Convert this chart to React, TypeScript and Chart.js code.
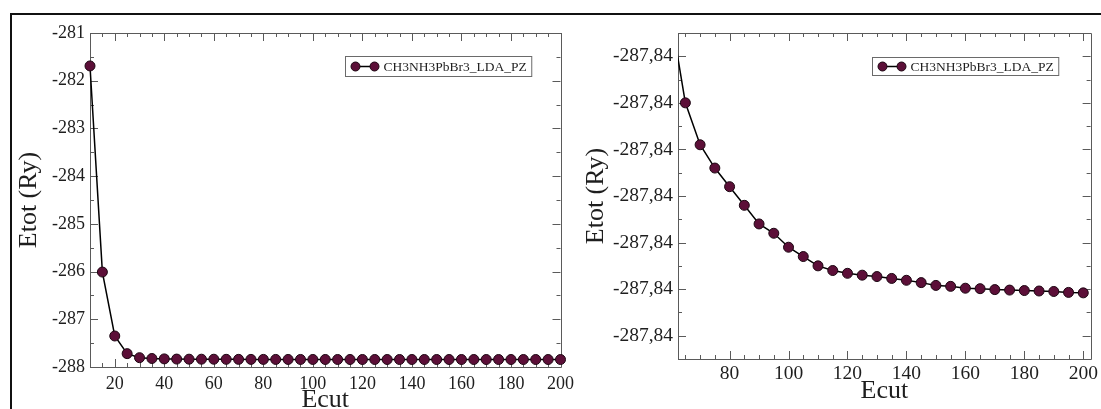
import React, { useEffect, useRef } from "react";
import { Chart, registerables } from "chart.js";

Chart.register(...registerables);

// ---------------- data ----------------
const SERIES_LABEL = "CH3NH3PbBr3_LDA_PZ";
const X_TITLE = "Ecut";
const Y_TITLE = "Etot (Ry)";

const leftEcut = [10, 15, 20, 25, 30, 35, 40, 45, 50, 55, 60, 65, 70, 75, 80, 85, 90, 95, 100, 105, 110, 115, 120, 125, 130, 135, 140, 145, 150, 155, 160, 165, 170, 175, 180, 185, 190, 195, 200];
const leftEtot = [-281.69, -286.01, -287.35, -287.72, -287.805, -287.822, -287.83, -287.834, -287.836, -287.8365, -287.8371, -287.839, -287.8399, -287.8404, -287.8408, -287.8412, -287.8416, -287.8418, -287.8421, -287.8423, -287.8425, -287.8426, -287.84266, -287.8427, -287.84273, -287.84277, -287.84281, -287.84286, -287.84292, -287.84294, -287.84298, -287.84299, -287.84301, -287.84302, -287.84303, -287.84304, -287.84305, -287.84307, -287.84308];

const rightEcut = [60, 65, 70, 75, 80, 85, 90, 95, 100, 105, 110, 115, 120, 125, 130, 135, 140, 145, 150, 155, 160, 165, 170, 175, 180, 185, 190, 195, 200];
const rightEtot = [-287.8371, -287.839, -287.8399, -287.8404, -287.8408, -287.8412, -287.8416, -287.8418, -287.8421, -287.8423, -287.8425, -287.8426, -287.84266, -287.8427, -287.84273, -287.84277, -287.84281, -287.84286, -287.84292, -287.84294, -287.84298, -287.84299, -287.84301, -287.84302, -287.84303, -287.84304, -287.84305, -287.84307, -287.84308];

const leftXTicks = [20, 40, 60, 80, 100, 120, 140, 160, 180, 200];
const leftYTicks = [-288, -287, -286, -285, -284, -283, -282, -281];
const rightXTicks = [80, 100, 120, 140, 160, 180, 200];
const rightYTicks = [-287.844, -287.843, -287.842, -287.841, -287.84, -287.839, -287.838];

// ---------------- styling ----------------
const FONT = "'Liberation Serif', 'Times New Roman', serif";
const MARKER_FILL = "#5c0f38";
const MARKER_EDGE = "#1c0612";
const AXIS_COLOR = "#5a5a5a";
const TEXT_COLOR = "#1e1e1e";

const framePlugin = {
  id: "frameTicks",
  beforeDatasetsDraw(chart: any, _args: any, o: any) {
    const { ctx, chartArea: a, scales } = chart;
    const xs = scales.x;
    const ys = scales.y;
    ctx.save();
    ctx.strokeStyle = o.color;
    ctx.lineWidth = 1;
    ctx.beginPath();
    ctx.rect(Math.round(a.left) + 0.5, Math.round(a.top) + 0.5, Math.round(a.right - a.left), Math.round(a.bottom - a.top));
    ctx.stroke();
    const majX: number[] = o.xMajor;
    const majY: number[] = o.yMajor;
    const drawX = (v: number, len: number) => {
      const px = Math.round(xs.getPixelForValue(v)) + 0.5;
      ctx.beginPath();
      ctx.moveTo(px, a.bottom);
      ctx.lineTo(px, a.bottom - len);
      ctx.moveTo(px, a.top);
      ctx.lineTo(px, a.top + len);
      ctx.stroke();
    };
    const drawY = (v: number, len: number) => {
      const py = Math.round(ys.getPixelForValue(v)) + 0.5;
      ctx.beginPath();
      ctx.moveTo(a.left, py);
      ctx.lineTo(a.left + len, py);
      ctx.moveTo(a.right, py);
      ctx.lineTo(a.right - len, py);
      ctx.stroke();
    };
    majX.forEach((v) => drawX(v, o.majorLen));
    majY.forEach((v) => drawY(v, o.majorLen));
    const near = (arr: number[], v: number, eps: number) => arr.some((m) => Math.abs(m - v) < eps);
    for (let v = Math.ceil(xs.min / o.xMinor) * o.xMinor; v <= xs.max + 1e-9; v += o.xMinor) {
      if (!near(majX, v, o.xMinor / 10)) drawX(v, o.minorLen);
    }
    const yStart = Math.ceil((ys.min - 1e-12) / o.yMinor) * o.yMinor;
    for (let k = 0; ; k++) {
      const v = yStart + k * o.yMinor;
      if (v > ys.max + 1e-12) break;
      if (!near(majY, v, o.yMinor / 10)) drawY(v, o.minorLen);
    }
    ctx.restore();
  },
};

const legendPlugin = {
  id: "boxLegend",
  afterDatasetsDraw(chart: any, _args: any, o: any) {
    const { ctx, chartArea: a } = chart;
    const ds = chart.data.datasets[0];
    ctx.save();
    ctx.font = `${o.fontSize}px ${FONT}`;
    const tw = ctx.measureText(ds.label).width;
    const w = 38 + tw + 5;
    const h = o.height;
    const left = Math.round(a.right - o.rightOffset - w) + 0.5;
    const top = Math.round(a.top + o.topOffset) + 0.5;
    ctx.fillStyle = "#ffffff";
    ctx.fillRect(left, top, w, h);
    ctx.strokeStyle = "#6a6a6a";
    ctx.lineWidth = 1;
    ctx.strokeRect(left, top, w, h);
    const cy = top + h / 2;
    ctx.strokeStyle = "#000";
    ctx.lineWidth = 1.5;
    ctx.beginPath();
    ctx.moveTo(left + 10, cy);
    ctx.lineTo(left + 29, cy);
    ctx.stroke();
    [left + 10, left + 29].forEach((cx) => {
      ctx.beginPath();
      ctx.arc(cx, cy, 4.5, 0, Math.PI * 2);
      ctx.fillStyle = MARKER_FILL;
      ctx.fill();
      ctx.lineWidth = 1;
      ctx.strokeStyle = MARKER_EDGE;
      ctx.stroke();
    });
    ctx.fillStyle = TEXT_COLOR;
    ctx.textBaseline = "middle";
    ctx.textAlign = "left";
    ctx.fillText(ds.label, left + 38, cy + 1);
    ctx.restore();
  },
};

type PanelCfg = {
  ecut: number[];
  etot: number[];
  xMin: number;
  xMax: number;
  yMin: number;
  yMax: number;
  xTicks: number[];
  yTicks: number[];
  yMinor: number;
  yFmt: (v: number) => string;
  tickFont: number;
  xTickPad: number;
  yAxisWidth: number;
  xAxisHeight: number;
  padding: { left: number; right: number; top: number; bottom: number };
  xTitleLineHeight: number;
  xTitlePadBottom: number;
  clip: any;
  legendRight: number;
  legendTop: number;
  legendHeight: number;
};

function buildConfig(p: PanelCfg): any {
  return {
    type: "line",
    data: {
      datasets: [
        {
          label: SERIES_LABEL,
          data: p.ecut.map((x, i) => ({ x, y: p.etot[i] })),
          borderColor: "#000000",
          borderWidth: 1.5,
          pointRadius: 5,
          pointBackgroundColor: MARKER_FILL,
          pointBorderColor: MARKER_EDGE,
          pointBorderWidth: 1,
          tension: 0,
          clip: p.clip,
        },
      ],
    },
    options: {
      animation: false,
      responsive: false,
      maintainAspectRatio: false,
      layout: { padding: p.padding },
      plugins: {
        legend: { display: false },
        tooltip: { enabled: false },
        frameTicks: {
          color: AXIS_COLOR,
          xMajor: p.xTicks,
          yMajor: p.yTicks,
          xMinor: 5,
          yMinor: p.yMinor,
          majorLen: 8,
          minorLen: 4,
        },
        boxLegend: { fontSize: 13.5, rightOffset: p.legendRight, topOffset: p.legendTop, height: p.legendHeight },
      },
      scales: {
        x: {
          type: "linear",
          min: p.xMin,
          max: p.xMax,
          afterBuildTicks: (s: any) => {
            s.ticks = p.xTicks.map((v) => ({ value: v }));
          },
          afterFit: (s: any) => {
            s.height = p.xAxisHeight;
          },
          grid: { display: false, drawTicks: false },
          border: { display: false },
          ticks: {
            autoSkip: false,
            maxRotation: 0,
            padding: p.xTickPad,
            color: TEXT_COLOR,
            font: { family: FONT, size: p.tickFont },
            callback: (v: any) => String(v),
          },
          title: {
            display: true,
            text: X_TITLE,
            color: TEXT_COLOR,
            font: { family: FONT, size: 26, lineHeight: p.xTitleLineHeight },
            padding: { top: 0, bottom: p.xTitlePadBottom },
          },
        },
        y: {
          type: "linear",
          min: p.yMin,
          max: p.yMax,
          afterBuildTicks: (s: any) => {
            s.ticks = p.yTicks.map((v) => ({ value: v }));
          },
          afterFit: (s: any) => {
            s.width = p.yAxisWidth;
          },
          grid: { display: false, drawTicks: false },
          border: { display: false },
          ticks: {
            autoSkip: false,
            padding: 5,
            color: TEXT_COLOR,
            font: { family: FONT, size: p.tickFont },
            callback: (v: any) => p.yFmt(Number(v)),
          },
          title: {
            display: true,
            text: Y_TITLE,
            color: TEXT_COLOR,
            font: { family: FONT, size: 26 },
            padding: { top: 4, bottom: 0 },
          },
        },
      },
    },
    plugins: [framePlugin, legendPlugin],
  };
}

const leftCfg: PanelCfg = {
  ecut: leftEcut,
  etot: leftEtot,
  xMin: 10,
  xMax: 200,
  yMin: -288,
  yMax: -281,
  xTicks: leftXTicks,
  yTicks: leftYTicks,
  yMinor: 0.5,
  yFmt: (v) => String(Math.round(v)),
  tickFont: 18,
  xTickPad: 6,
  yAxisWidth: 80,
  xAxisHeight: 42,
  padding: { left: 0, right: 14, top: 20, bottom: 0 },
  xTitleLineHeight: 0.7,
  xTitlePadBottom: 0,
  clip: false,
  legendRight: 29,
  legendTop: 23,
  legendHeight: 20,
};

const rightCfg: PanelCfg = {
  ecut: rightEcut,
  etot: rightEtot,
  xMin: 62.5,
  xMax: 202.5,
  yMin: -287.8445,
  yMax: -287.8375,
  xTicks: rightXTicks,
  yTicks: rightYTicks,
  yMinor: 0.0005,
  yFmt: (v) => v.toFixed(2).replace(".", ","),
  tickFont: 19.5,
  xTickPad: 3,
  yAxisWidth: 101,
  xAxisHeight: 50,
  padding: { left: 2, right: 6, top: 20, bottom: 0 },
  xTitleLineHeight: 1.2,
  xTitlePadBottom: 2,
  clip: { left: 0, top: false, right: false, bottom: false },
  legendRight: 32,
  legendTop: 24,
  legendHeight: 18,
};

function Panel({ cfg, left, top, width, height }: { cfg: PanelCfg; left: number; top: number; width: number; height: number }) {
  const ref = useRef<HTMLCanvasElement | null>(null);
  useEffect(() => {
    if (!ref.current) return;
    const chart = new Chart(ref.current, buildConfig(cfg));
    return () => chart.destroy();
  }, [cfg]);
  return (
    <canvas
      ref={ref}
      width={width}
      height={height}
      style={{ position: "absolute", left, top, width, height, display: "block" }}
    />
  );
}

export default function App() {
  return (
    <div
      style={{
        position: "absolute",
        left: 0,
        top: 0,
        width: 1101,
        height: 409,
        overflow: "hidden",
        background: "#ffffff",
      }}
    >
      <div
        style={{
          position: "absolute",
          left: 10,
          top: 13,
          width: 1200,
          height: 500,
          borderLeft: "2px solid #111",
          borderTop: "2px solid #111",
          boxSizing: "border-box",
        }}
      />
      <Panel cfg={leftCfg} left={10} top={13} width={570} height={396} />
      <Panel cfg={rightCfg} left={575} top={13} width={526} height={396} />
    </div>
  );
}
